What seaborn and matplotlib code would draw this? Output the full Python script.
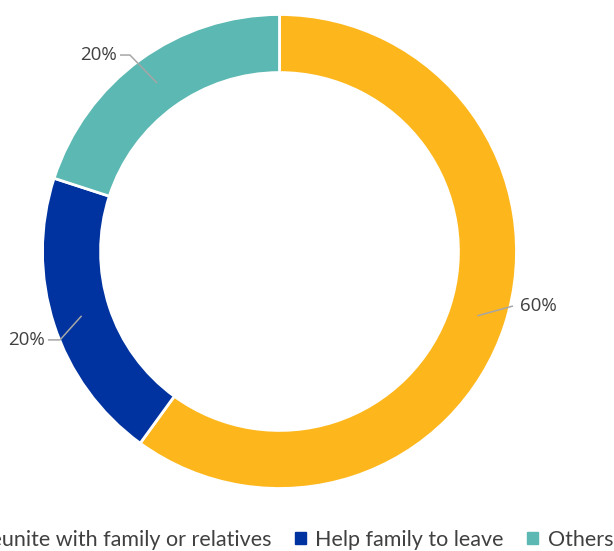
import matplotlib
matplotlib.use("Agg")
import matplotlib.pyplot as plt
import seaborn as sns
import numpy as np

categories = ["Reunite with family or relatives", "Help family to leave", "Others"]
shares = [60, 20, 20]
pct_labels = ["60%", "20%", "20%"]
colors = ["#FDB71C", "#0033A0", "#5BB8B2"]

sns.set_theme(style="white")
plt.rcParams["font.family"] = ["Lato", "DejaVu Sans"]

W, H = 614, 551
fig = plt.figure(figsize=(W / 100, H / 100), dpi=100)
cx, cy, R = 279.5, 251.5, 237
ax = fig.add_axes([(cx - R) / W, (H - cy - R) / H, 2 * R / W, 2 * R / H])

wedges, _ = ax.pie(
    shares, colors=colors, startangle=90, counterclock=False, radius=1.0,
    wedgeprops=dict(width=0.245, edgecolor="white", linewidth=2),
)
ax.set_xlim(-1, 1)
ax.set_ylim(-1, 1)
ax.set_aspect("equal")
ax.axis("off")

# leader lines and value labels, positioned per slice
label_offsets = [  # (elbow point, text point) in data units
    ((0.985, -0.23), (0.985, -0.23)),
    ((-0.926, -0.373), (-0.977, -0.373)),
    ((-0.631, 0.829), (-0.673, 0.829)),
]
for w, lab, (elbow, tpos) in zip(wedges, pct_labels, label_offsets):
    ang = np.deg2rad((w.theta1 + w.theta2) / 2)
    r = 0.878
    px, py = r * np.cos(ang), r * np.sin(ang)
    ha = "left" if tpos[0] > 0 else "right"
    ax.plot([px, elbow[0], tpos[0]], [py, elbow[1], tpos[1]], color="#A6A6A6",
            lw=1.1, clip_on=False, solid_capstyle="butt")
    ax.text(tpos[0] + (0.03 if ha == "left" else -0.015), tpos[1], lab,
            ha=ha, va="center", fontsize=13.5, color="#404040",
            family=["Open Sans", "DejaVu Sans"])

handles = [plt.Rectangle((0, 0), 1, 1, color=c) for c in colors]
fig.legend(handles, categories, loc="center right", bbox_to_anchor=(0.999, 1 - 540 / H),
           ncol=3, frameon=False, fontsize=15.5, handlelength=0.5, handleheight=0.5,
           handletextpad=0.45, columnspacing=1.1, labelcolor="#404040", borderpad=0,
           borderaxespad=0)

fig.savefig("out.png", dpi=100)
